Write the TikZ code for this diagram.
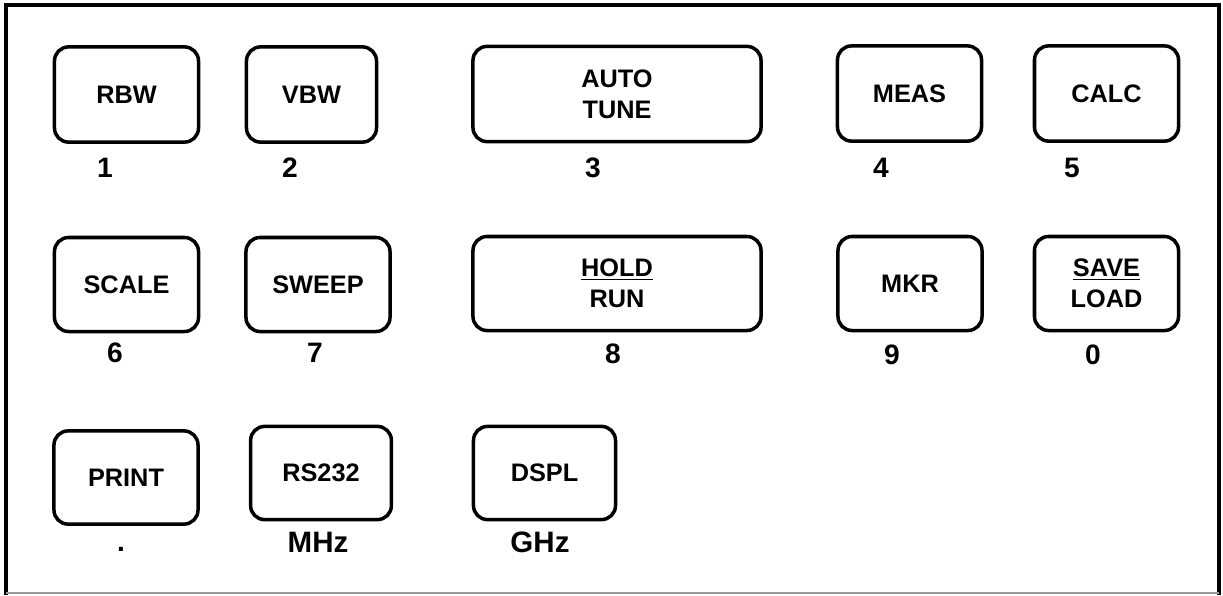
\documentclass[tikz,border=0pt]{standalone}
\usepackage{fontspec}
\setmainfont{Liberation Sans}
\usepackage{tikz}
\usetikzlibrary{positioning}
\definecolor{ink}{HTML}{000000}
\definecolor{rim}{HTML}{9A9A9A}
\tikzset{
  key_box/.style={draw=ink,line width=2.5pt,rounded corners=10pt,
    minimum width=3.6cm,minimum height=2.38cm,inner sep=0pt,
    font=\fontsize{18}{22}\selectfont\bfseries,align=center},
  key_wide/.style={key_box,minimum width=7.2cm},
  num_lbl/.style={inner sep=0pt,font=\fontsize{20}{22}\selectfont\bfseries},
  unit_lbl/.style={inner sep=0pt,font=\fontsize{21}{22}\selectfont\bfseries},
  frame/.style={draw=ink,line width=2.8pt},
}

\begin{document}
\begin{tikzpicture}[x=0.025cm,y=-0.025cm]
      \useasboundingbox (0,0) rectangle (1223,595);
      \draw[frame] (6,595) -- (6,5) -- (1219,5) -- (1219,595);
      \draw[rim,line width=0.8pt] (6,593) -- (1219,593);
      % top row
      \node[key_box] (rbw) at (126.5,94.5) {RBW};
      \node[key_box,minimum width=3.25cm] (vbw) at (311.5,94.5) {VBW};
      \node[key_wide] (auto) at (617,94) {AUTO\\TUNE};
      \node[key_box] (meas) at (909.5,93.5) {MEAS};
      \node[key_box] (calc) at (1106.5,93.5) {CALC};
      \node[num_lbl] (n1) at (105,168) {1};
      \node[num_lbl] (n2) at (290,168) {2};
      \node[num_lbl] (n3) at (593,168) {3};
      \node[num_lbl] (n4) at (881,168) {4};
      \node[num_lbl] (n5) at (1072,168) {5};
      % middle row
      \node[key_box,minimum height=2.35cm] (scale) at (126.5,284.5) {SCALE};
      \node[key_box,minimum height=2.35cm] (sweep) at (318,284.5) {SWEEP};
      \node[key_wide,minimum height=2.35cm] (hold) at (617,283.5) {\underline{HOLD}\\RUN};
      \node[key_box,minimum height=2.35cm] (mkr) at (910,283.5) {MKR};
      \node[key_box,minimum height=2.35cm] (save) at (1106.5,283.5) {\underline{SAVE}\\LOAD};
      \node[num_lbl] (n6) at (115,353) {6};
      \node[num_lbl] (n7) at (315,353) {7};
      \node[num_lbl] (n8) at (613,354) {8};
      \node[num_lbl] (n9) at (892,355) {9};
      \node[num_lbl] (n0) at (1093,355) {0};
      % bottom row
      \node[key_box,minimum height=2.33cm] (print) at (126,477.5) {PRINT};
      \node[key_box,minimum width=3.52cm,minimum height=2.33cm] (rs) at (321,473) {RS232};
      \node[key_box,minimum width=3.55cm,minimum height=2.33cm] (dspl) at (544.5,473) {DSPL};
      \node[num_lbl] (ndot) at (121,549) {.};
      \node[unit_lbl] (mhz) at (318,542.5) {MHz};
      \node[unit_lbl] (ghz) at (540,542) {GHz};
    \end{tikzpicture}
\end{document}
